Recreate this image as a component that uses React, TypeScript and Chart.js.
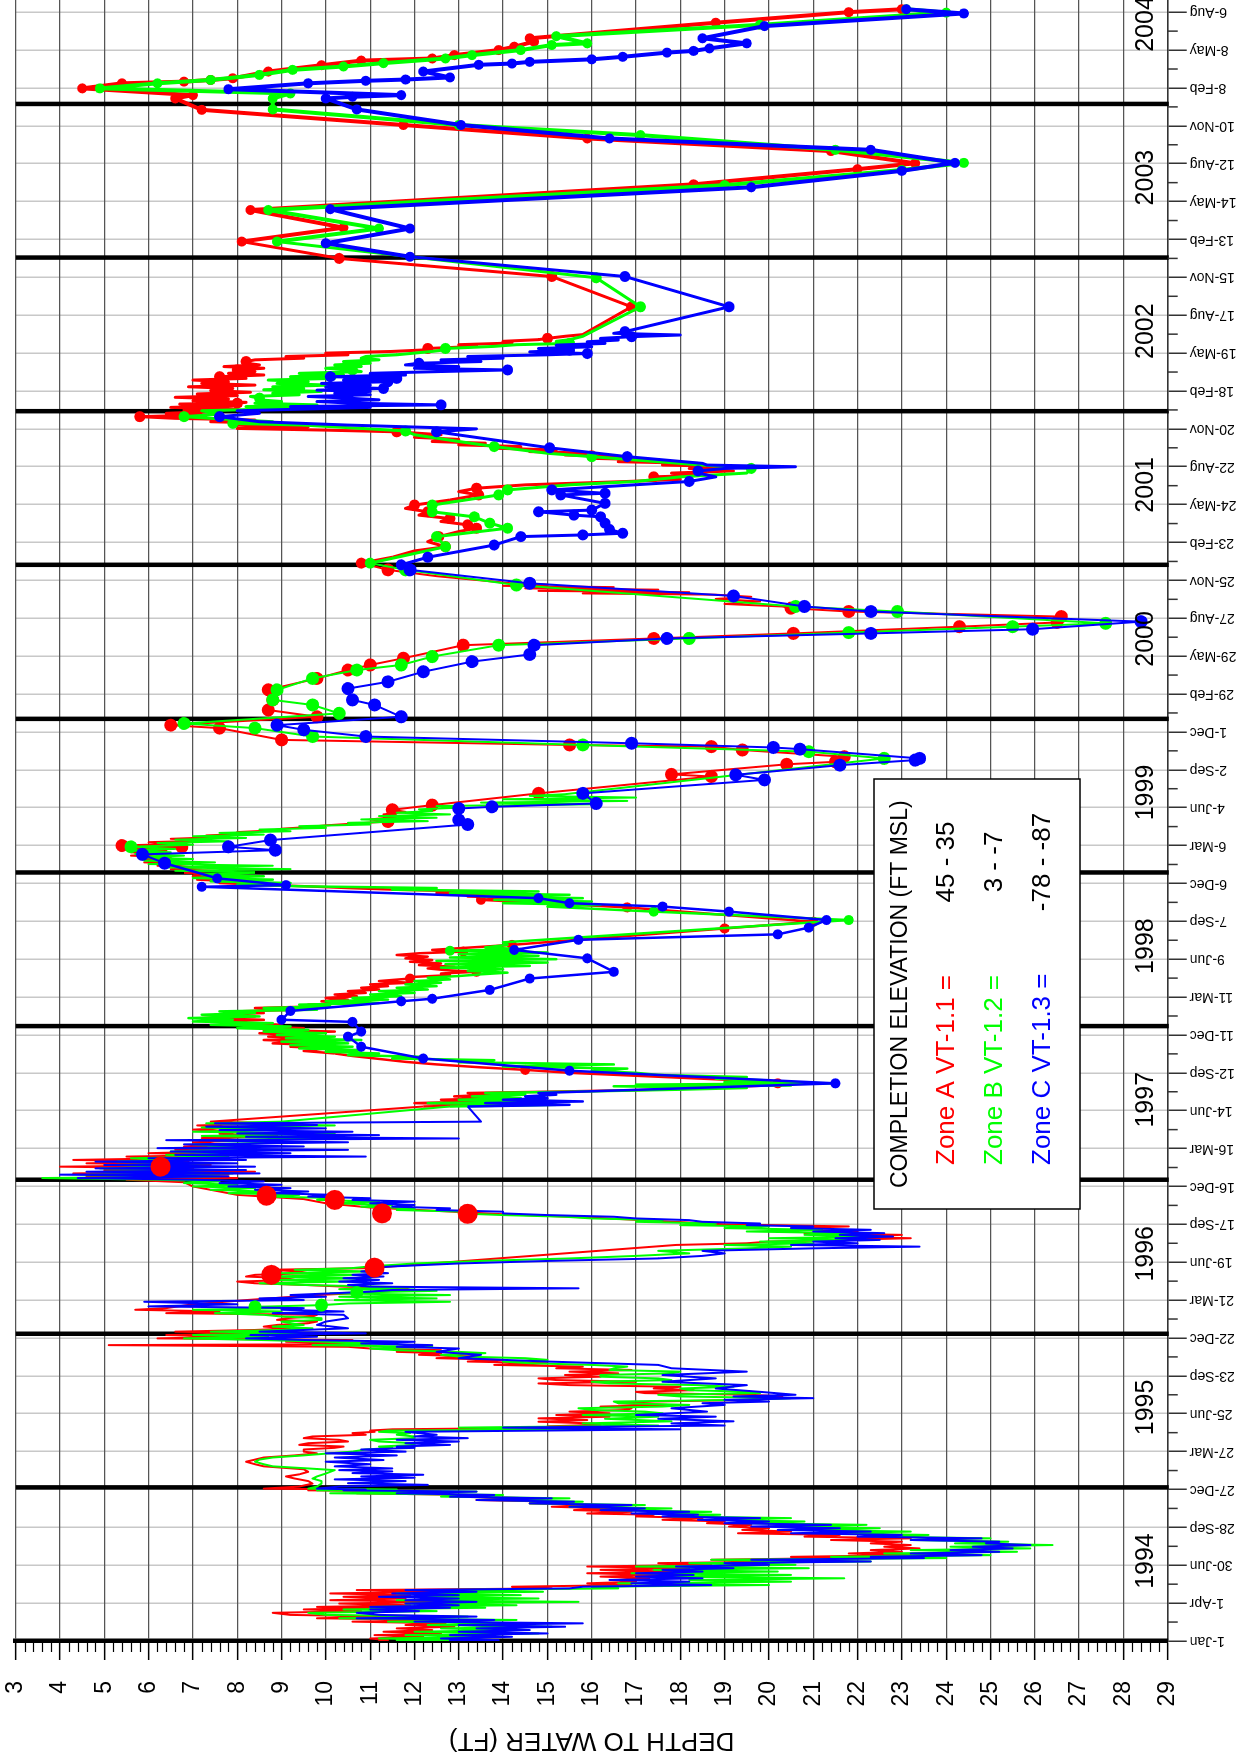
import React, { useEffect, useRef } from "react";
import { Chart, registerables } from "chart.js";

Chart.register(...registerables);

// x values: days since 1-Jan-1994 ; y values: depth to water (ft)
const dateTickLabels = [
  "1-Jan", "1-Apr", "30-Jun", "28-Sep", "27-Dec", "27-Mar", "25-Jun", "23-Sep", "22-Dec",
  "21-Mar", "19-Jun", "17-Sep", "16-Dec", "16-Mar", "14-Jun", "12-Sep", "11-Dec", "11-Mar",
  "9-Jun", "7-Sep", "6-Dec", "6-Mar", "4-Jun", "2-Sep", "1-Dec", "29-Feb", "29-May", "27-Aug",
  "25-Nov", "23-Feb", "24-May", "22-Aug", "20-Nov", "18-Feb", "19-May", "17-Aug", "15-Nov",
  "13-Feb", "14-May", "12-Aug", "10-Nov", "8-Feb", "8-May", "6-Aug",
];
const dateTickStep = 90;
const yearLabels = ["1994", "1995", "1996", "1997", "1998", "1999", "2000", "2001", "2002", "2003", "2004"];
const yearStartDays = [0, 365, 730, 1096, 1461, 1826, 2191, 2557, 2922, 3287, 3652];
const depthMin = 3;
const depthMax = 29;
const dayMax = 3994;

const legendTitle = "COMPLETION ELEVATION (FT MSL)";
const legendZones = ["Zone A VT-1.1 =", "Zone B VT-1.2 =", "Zone C VT-1.3 ="];
const legendRanges = ["45 - 35", "3 - -7", "-78 - -87"];
const zoneColors = ["#ff0000", "#00ff00", "#0000ff"];

// ---------------- Zone A (VT-1.1, red) ----------------
const zoneA_logger: number[][] = [
  [0,11.2],[2,11.4],[6,11.0],[10,12.2],[14,11.1],[18,12.6],[22,11.3],[26,12.4],[30,11.6],[34,12.9],[38,11.8],[42,12.7],[46,10.6],[50,12.9],[54,9.8],[58,11.5],[62,9.2],[67,8.8],[71,10.8],[75,9.5],[79,11.2],[81,9.8],[85,11.9],[89,10.3],[93,12.6],[97,10.1],[101,11.8],[105,10.4],[109,11.9],[113,10.1],[117,12.5],[121,10.7],[125,15.1],[129,14.2],[133,16.9],[137,15.9],[141,17.0],[145,16.6],[149,17.3],[153,16.2],[157,17.5],[161,15.9],[165,17.8],[169,16.2],[173,18.2],[177,15.9],[181,18.7],[185,17.5],[189,20.5],[193,18.7],[197,21.5],[200,20.5],[204,23.2],[208,21.8],[212,23.0],[216,22.3],[220,23.4],[224,22.6],[228,23.2],[232,22.3],[236,23.0],[240,21.4],[244,23.2],[248,20.8],[252,21.6],[256,19.3],[260,20.5],[264,19.4],[268,20.0],[272,19.1],[276,19.6],[280,18.6],[284,19.0],[288,17.6],[292,18.5],[296,17.0],[300,17.4],[303,15.9],[307,16.9],[311,15.6],[315,16.4],[319,15.1],[323,16.2],[327,14.6],[331,15.2],[335,13.4],[339,14.8],[343,12.8],[347,13.2],[351,10.7],[355,12.6],[358,9.6],[360,10.7],[362,8.6],
  [367,9.4],[374,9.7],[380,9.6],[386,9.3],[391,9.1],[396,9.4],[402,9.6],[408,9.5],[415,8.6],[420,8.4],[426,8.2],[431,8.4],[436,8.6],[441,9.3],[446,9.8],[450,9.5],[455,9.5],[459,10.2],[462,10.4],[466,9.4],[470,9.6],[474,10.5],[478,10.3],[482,9.5],[486,9.7],[490,10.9],[494,10.6],[497,11.1],[500,11.0],[503,11.5],[507,15.6],[510,15.0],[514,16.2],[517,16.0],[521,14.8],[525,15.9],[529,14.8],[533,16.4],[537,15.2],[541,16.4],[545,15.5],[549,16.8],[553,16.9],[557,16.2],[561,17.7],[565,16.6],[569,17.4],[573,19.6],[577,19.9],[581,20.3],[585,19.6],[589,17.2],[592,17.0],[596,18.3],[600,17.4],[604,18.0],[608,15.5],[612,14.8],[616,17.0],[620,15.2],[624,14.8],[628,16.2],[632,15.4],[636,16.6],[640,15.5],[644,16.9],[648,15.2],[652,15.8],[656,13.8],[660,15.0],[664,13.2],[668,14.0],[672,12.5],[676,13.4],[680,12.1],[684,12.6],[687,11.6],[691,12.6],[695,11.0],[699,10.5],[703,5.1],[705,9.8],[707,10.7],[711,9.1],[715,10.6],[719,6.2],[723,8.0],[727,6.4],[731,8.5],[735,6.6],[739,8.4],[743,9.2],[747,8.6],[751,8.9],[755,9.6],[759,9.8],[763,8.9],[767,9.1],[771,9.7],[775,9.8],[779,6.4],[783,7.6],[787,5.7],[791,6.4],[800,7.0],[810,8.2],[822,9.8],[826,10.6],[830,11.2],[834,11.9],[838,11.8],[842,10.4],[846,9.5],[850,8.4],[854,8.0],[858,9.3],[862,9.1],[866,8.2],[870,8.4],[874,9.6],[878,9.4],[882,8.7],[886,11.0],[941,17.9],[945,19.5],[949,20.0],[953,21.6],[957,23.2],[961,21.5],[965,23.0],[969,20.8],[973,22.0],[977,20.6],[981,20.5],[985,21.8],[990,19.0],[998,17.5],[1006,16.0],[1014,14.0],[1022,12.5],[1030,11.0],[1040,10.0],[1050,9.5],[1060,8.0],[1070,7.5],[1080,7.0],[1090,6.8],
  [1096,5.5],[1100,8.0],[1104,4.6],[1108,7.8],[1111,4.3],[1115,8.4],[1119,5.0],[1123,7.0],[1127,4.0],[1131,7.4],[1135,4.6],[1139,6.9],[1143,4.3],[1147,6.5],[1151,5.5],[1155,8.0],[1159,6.0],[1163,7.5],[1167,6.6],[1171,8.0],[1175,6.8],[1180,7.6],[1185,7.0],[1190,8.3],[1195,7.2],[1200,8.9],[1205,7.6],[1210,8.0],[1215,7.0],[1220,7.9],[1225,7.1],[1230,8.9],[1234,7.4],[1270,12.2],[1274,14.0],[1278,12.0],[1282,13.5],[1286,12.6],[1290,14.0],[1294,12.9],[1298,13.7],[1302,13.2],[1306,15.5],[1310,17.5],[1314,18.5],[1318,19.5],[1322,20.5],[1330,19.8],[1336,18.5],[1343,17.0],[1350,15.5],[1363,13.5],[1370,12.5],[1376,11.8],[1383,11.2],[1390,10.6],[1396,10.2],[1402,9.5],[1408,10.0],[1412,9.2],[1416,9.8],[1420,8.8],[1424,9.6],[1428,8.6],[1432,10.0],[1436,8.7],[1440,9.4],[1444,8.5],[1448,10.2],[1452,8.6],[1456,9.5],[1460,8.4],[1464,9.0],[1468,8.2],[1472,7.8],[1476,8.6],[1480,7.2],[1484,8.4],[1488,7.5],[1492,8.6],[1496,8.0],[1500,9.4],[1504,8.4],[1508,9.9],[1512,9.6],[1516,10.7],[1520,9.9],[1524,10.5],[1528,10.0],[1532,10.7],[1536,10.2],[1540,10.9],[1544,10.5],[1548,11.2],[1552,10.8],[1556,11.4],[1560,11.0],[1564,11.9],[1568,11.2],[1578,12.0],[1582,12.8],[1586,12.6],[1594,12.7],[1598,12.3],[1602,12.9],[1606,12.1],[1610,12.6],[1614,11.9],[1618,12.4],[1622,11.8],[1626,12.3],[1630,11.6],[1634,12.1],[1642,12.4],[1646,13.0],[1650,13.6],
  [1765,14.5],[1769,13.2],[1773,14.0],[1777,12.5],[1781,13.2],[1785,11.6],[1789,10.5],[1793,9.6],[1797,8.5],[1801,7.6],[1805,8.0],[1809,7.1],[1813,7.6],[1817,7.0],[1821,7.4],[1826,6.8],[1830,7.5],[1834,6.5],[1838,7.2],[1842,6.2],[1846,6.9],[1850,5.9],[1854,6.6],[1858,5.8],[1862,6.5],[1866,5.6],[1870,6.2],[1874,5.6],[1878,6.4],[1882,5.4],[1894,6.6],[1898,6.0],[1902,7.4],[1906,6.5],[1910,7.6],[1914,7.3],[1918,8.2],[1922,8.0],[1926,8.8],[1930,9.0],[1934,9.6],[1938,10.0],[1942,10.6],[1952,11.0],[1958,11.6],[1964,11.3],[1970,11.8],
  [2458,20.3],[2464,19.0],[2470,19.8],[2476,18.8],[2481,19.6],[2486,18.8],[2489,15.8],[2492,18.2],[2495,14.8],[2498,17.5],[2501,14.5],[2504,16.5],[2507,14.0],[2510,15.0],[2513,14.2],[2520,13.5],[2530,12.5],
  [2575,11.5],[2590,12.0],[2612,12.3],[2636,13.0],[2660,12.6],[2675,12.1],[2691,11.8],[2711,12.8],[2731,13.0],[2747,14.5],[2755,16.8],[2760,18.0],[2770,18.6],[2775,17.8],[2780,19.2],[2786,18.2],[2790,19.5],[2794,17.6],[2798,18.4],[2802,16.6],[2806,17.5],[2810,16.0],[2814,16.8],[2818,15.4],[2822,16.0],[2826,14.6],[2830,15.2],[2834,13.8],[2838,14.4],[2842,13.0],[2846,13.6],[2850,12.4],[2855,13.0],[2860,12.0],[2866,12.6],[2877,10.0],[2881,8.0],[2885,9.6],[2889,8.0],[2893,8.9],[2897,7.4],[2901,8.4],[2905,6.6],[2913,7.2],[2917,6.4],[2921,7.4],
  [2925,6.8],[2927,8.0],[2931,6.5],[2935,7.9],[2939,6.7],[2943,8.2],[2947,7.0],[2951,7.8],[2955,6.6],[2959,8.0],[2963,7.1],[2967,8.3],[2971,7.4],[2976,7.9],[2980,6.9],[2984,8.4],[2988,7.2],[2992,7.8],[2996,7.0],[3000,8.2],[3008,8.6],[3012,7.8],[3016,8.4],[3024,8.6],[3028,7.7],[3032,8.5],[3036,8.2],[3044,8.4],[3048,9.5],[3052,9.1],[3056,10.5],[3060,10.0],[3064,11.5],[3068,12.3],[3076,13.4],[3080,13.0],[3084,14.2],[3088,14.0],[3092,14.8],[3100,15.4],[3104,15.8],
];
const zoneA_manual: number[][] = [
  [1325,20.2],[1357,14.5],[1574,11.9],[1590,13.4],[1638,13.1],[1654,14.2],[1693,19.0],[1709,21.0],[1743,16.8],[1761,13.5],[1887,6.75],[1890,5.4],[1947,11.4],[1975,11.5],[1986,12.4],[2014,14.8],[2054,18.7],[2059,17.8],[2083,20.4],[2089,21.5],[2101,21.7],[2117,19.4],[2125,18.7],[2129,15.5],[2141,9.0],[2169,7.6],[2176,6.5],[2196,9.8],[2212,8.7],[2236,8.8],[2260,8.7],[2287,9.8],[2307,10.5],[2319,11.0],[2335,11.75],[2366,13.1],[2382,17.4],[2394,20.55],[2410,24.3],[2420,26.5],[2434,26.6],[2446,21.8],[2454,20.5],[2545,11.4],[2561,10.8],[2600,12.7],[2624,12.55],[2644,13.4],[2652,13.2],[2667,12.8],[2683,12.3],[2699,12.0],[2723,13.45],[2739,13.4],[2766,17.4],[2816,16.0],[2873,11.6],[2909,5.8],[2941,8.0],[3004,7.6],[3020,8.0],[3040,8.2],[3071,12.3],[3095,15.0],[3170,16.9],[3242,15.1],[3285,10.3],[3325,8.1],[3358,10.4],[3400,8.3],[3461,18.3],[3497,22.0],[3511,23.3],[3540,21.4],[3570,15.9],[3602,11.75],[3638,7.2],[3665,6.6],[3673,7.0],[3689,4.5],[3701,5.4],[3705,6.8],[3709,7.4],[3713,7.9],[3729,8.7],[3744,9.9],[3755,10.8],[3760,12.4],[3768,12.9],[3780,13.9],[3788,14.25],[3800,14.7],[3808,14.6],[3845,18.8],[3870,21.8],[3877,23.0],
];
const zoneA_bigDots: number[][] = [[870,8.77],[887,11.1],[1015,13.2],[1016,11.27],[1048,10.2],[1058,8.66],[1127,6.27]];

// ---------------- Zone B (VT-1.2, green) ----------------
const zoneB_logger: number[][] = [
  [0,11.6],[2,13.4],[6,11.2],[10,14.0],[14,11.8],[18,14.8],[22,12.0],[26,14.2],[30,12.6],[34,15.1],[38,12.3],[42,14.6],[46,11.4],[50,14.3],[54,10.3],[58,13.2],[62,10.0],[67,9.6],[71,12.5],[75,10.4],[79,13.6],[81,11.0],[85,14.3],[89,11.8],[93,15.7],[97,11.6],[101,14.8],[105,12.0],[109,14.4],[113,11.6],[117,14.9],[121,12.3],[125,16.6],[129,16.0],[133,20.0],[137,16.6],[141,20.5],[145,18.2],[149,21.7],[153,17.5],[157,20.5],[161,16.9],[165,20.2],[169,17.4],[173,20.9],[177,17.0],[181,20.6],[185,18.2],[189,22.3],[193,18.7],[197,24.0],[200,21.4],[204,25.0],[208,22.6],[212,25.6],[216,23.2],[220,25.9],[224,24.1],[228,26.4],[232,24.2],[236,25.4],[240,23.2],[244,25.0],[248,22.4],[252,23.6],[256,21.4],[260,23.2],[264,20.8],[268,22.5],[272,20.5],[276,22.2],[280,19.5],[284,20.8],[288,18.7],[292,20.5],[296,17.8],[300,18.9],[303,17.3],[307,18.7],[311,16.4],[315,17.8],[319,15.5],[323,17.2],[327,14.6],[331,15.8],[335,13.8],[339,15.5],[343,12.6],[347,14.0],[351,10.1],[355,13.4],[358,9.8],[360,11.6],[362,9.6],
  [367,9.8],[374,9.9],[380,9.9],[386,9.7],[391,9.8],[398,10.0],[406,10.2],[410,9.6],[415,8.8],[420,8.6],[426,8.4],[431,8.5],[436,8.8],[441,9.5],[446,10.1],[450,10.6],[455,10.9],[459,11.5],[462,11.2],[466,12.0],[470,12.0],[474,11.2],[478,11.0],[482,12.0],[486,12.0],[490,11.6],[494,11.9],[497,11.2],[500,11.4],[503,16.4],[507,13.0],[512,17.5],[517,15.8],[522,17.8],[528,16.3],[533,17.5],[537,15.8],[541,17.6],[545,17.2],[549,16.0],[553,15.7],[557,17.6],[561,18.2],[565,16.6],[569,16.5],[573,19.5],[577,20.5],[581,18.0],[585,17.5],[589,19.8],[592,19.6],[596,18.2],[600,18.0],[604,19.2],[608,18.4],[612,16.4],[616,16.0],[620,17.8],[624,17.5],[628,16.2],[632,16.2],[636,17.8],[640,18.0],[644,16.4],[648,16.5],[652,16.8],[656,16.0],[660,14.6],[664,14.0],[668,15.0],[672,14.5],[676,13.0],[680,12.6],[684,13.6],[687,13.0],[691,11.6],[695,11.0],[699,12.4],[703,9.7],[707,11.3],[711,10.0],[715,8.6],[719,6.8],[723,8.7],[727,7.0],[731,9.5],[735,7.4],[739,9.0],[743,9.7],[747,8.8],[751,9.5],[755,9.2],[759,9.0],[763,9.9],[767,9.9],[771,9.0],[775,8.6],[779,7.5],[783,9.0],[787,7.0],[791,9.2],[794,8.4],[798,9.9],[802,10.5],[806,12.8],[810,10.2],[814,12.5],[818,10.3],[822,12.8],[826,10.1],[828,10.7],[832,12.5],[836,10.3],[840,12.0],[846,9.5],[850,8.5],[854,10.5],[858,8.8],[862,11.0],[866,8.6],[870,10.8],[874,9.0],[878,11.0],[882,9.3],[886,10.6],[890,11.0],[897,12.0],[903,13.5],[909,15.5],[915,17.0],[921,18.2],[927,17.5],[933,19.5],[937,20.5],[941,19.0],[945,21.0],[949,19.8],[953,22.0],[957,20.0],[961,22.5],[965,20.8],[969,21.8],[973,19.5],[977,21.2],[981,19.0],[985,20.0],[988,18.0],[992,18.8],[996,17.0],[1000,17.6],[1004,16.0],[1008,15.4],[1012,14.0],[1016,13.0],[1020,13.2],[1024,11.6],[1028,12.0],[1032,10.8],[1036,11.5],[1040,10.2],[1044,11.2],[1048,9.8],[1052,10.4],[1056,8.6],[1060,9.4],[1064,7.8],[1068,8.6],[1072,7.4],[1076,8.4],[1080,7.0],[1084,8.0],[1088,6.8],[1092,7.6],
  [1096,6.2],[1100,3.6],[1104,7.6],[1108,4.6],[1111,7.9],[1115,5.0],[1119,7.5],[1123,4.9],[1127,7.0],[1131,5.2],[1135,7.4],[1139,5.3],[1143,6.6],[1147,5.6],[1151,7.8],[1155,6.4],[1159,8.8],[1163,6.5],[1167,8.5],[1171,6.9],[1175,8.0],[1180,7.0],[1185,9.5],[1190,7.4],[1195,10.0],[1200,7.2],[1205,10.2],[1210,7.0],[1215,9.0],[1220,7.2],[1225,10.2],[1230,7.3],[1234,9.0],[1270,12.8],[1274,15.2],[1278,12.3],[1282,15.5],[1286,13.0],[1290,14.4],[1294,13.3],[1298,14.5],[1302,13.6],[1306,16.0],[1310,18.0],[1314,19.5],[1318,16.5],[1320,20.5],[1322,17.0],[1325,21.5],[1328,19.0],[1332,20.0],[1336,18.8],[1340,19.5],[1345,17.5],[1350,17.0],[1355,16.0],[1360,16.8],[1365,14.0],[1370,16.5],[1375,13.0],[1380,13.8],[1384,11.5],[1388,12.2],[1392,10.5],[1396,11.2],[1400,10.0],[1404,10.8],[1408,9.4],[1412,10.6],[1416,9.2],[1420,10.5],[1424,9.0],[1428,10.8],[1432,9.1],[1436,10.2],[1440,8.9],[1444,10.0],[1448,8.6],[1452,9.6],[1456,8.0],[1460,9.2],[1464,7.4],[1468,8.8],[1472,7.0],[1476,7.9],[1480,6.9],[1484,8.5],[1488,7.2],[1492,8.4],[1496,7.6],[1500,9.8],[1504,8.6],[1508,10.1],[1512,9.4],[1516,11.2],[1520,10.0],[1524,11.4],[1528,10.6],[1532,11.7],[1536,11.0],[1540,12.0],[1544,11.2],[1548,12.3],[1552,11.6],[1556,12.5],[1560,11.8],[1564,12.6],[1568,12.0],[1572,12.8],[1576,12.3],[1580,13.0],[1584,13.5],[1588,14.1],[1592,13.2],[1596,14.0],[1600,12.6],[1604,14.6],[1608,12.7],[1612,15.0],[1616,12.5],[1620,15.2],[1624,12.8],[1628,14.8],[1632,13.0],[1636,15.0],[1644,14.4],[1648,13.6],[1654,14.1],[1660,14.0],
  [1745,15.0],[1749,16.2],[1753,14.0],[1757,16.0],[1761,13.8],[1765,15.8],[1769,13.5],[1773,15.5],[1777,12.8],[1781,14.8],[1785,11.5],[1789,12.5],[1793,9.5],[1797,8.0],[1801,9.2],[1805,7.4],[1809,8.8],[1813,7.0],[1817,8.6],[1821,7.2],[1826,8.4],[1830,6.6],[1834,9.2],[1838,6.4],[1842,8.8],[1846,6.0],[1850,7.5],[1854,5.9],[1858,7.0],[1862,5.8],[1866,6.8],[1870,5.7],[1874,6.5],[1878,5.6],[1882,6.6],[1892,7.0],[1896,6.2],[1900,7.8],[1904,6.6],[1908,8.2],[1912,7.0],[1916,8.6],[1920,7.6],[1924,9.2],[1928,8.5],[1932,10.0],[1936,9.4],[1940,11.0],[1944,10.5],[1948,12.3],[1952,10.8],[1956,12.5],[1960,11.2],[1964,12.8],[1968,11.6],[1972,12.4],[1976,12.1],[1980,13.0],[1984,12.5],[1988,16.0],[1992,13.5],[1996,16.8],[2000,14.0],[2004,17.0],[2008,14.6],[2012,15.4],
  [2747,15.5],[2755,17.0],[2766,18.0],[2775,19.5],[2794,18.5],[2802,17.5],[2822,15.0],[2850,13.0],[2866,12.0],[2889,9.5],[2897,8.8],[2905,7.4],[2915,7.6],[2923,7.2],
  [2929,9.4],[2933,8.2],[2937,9.8],[2941,8.4],[2945,9.0],[2949,8.5],[2957,8.3],[2961,9.4],[2965,8.8],[2969,9.9],[2973,8.6],[2976,9.5],[2980,8.8],[2984,10.1],[2988,8.9],[2992,9.6],[2996,8.7],[3000,10.2],[3004,9.2],[3008,10.4],[3012,9.4],[3016,10.8],[3024,10.0],[3028,10.8],[3032,10.2],[3036,11.0],[3040,10.4],[3044,11.2],[3048,10.8],[3052,10.9],[3056,11.6],[3060,12.0],[3064,12.4],[3068,12.7],[3076,13.8],[3080,14.3],[3088,15.2],[3092,15.5],[3100,15.8],
];
const zoneB_manual: number[][] = [
  [1640,12.8],[1713,21.8],[1733,17.4],[1887,5.6],[2097,22.6],[2113,20.9],[2129,15.8],[2149,9.7],[2169,8.4],[2180,6.8],[2204,10.3],[2224,9.7],[2236,8.8],[2260,8.9],[2287,9.7],[2307,10.7],[2319,11.7],[2339,12.4],[2366,13.9],[2382,18.2],[2396,21.8],[2410,25.5],[2418,27.6],[2446,22.9],[2458,20.6],[2509,14.3],[2545,11.8],[2561,11.0],[2600,12.7],[2624,12.5],[2644,14.1],[2656,13.7],[2671,13.35],[2683,12.4],[2699,12.4],[2723,13.9],[2735,14.1],[2786,19.6],[2814,16.0],[2838,13.8],[2875,11.8],[2893,7.9],[2909,6.8],[2953,8.5],[3020,10.6],[3071,12.7],[3083,15.5],[3170,17.1],[3239,16.1],[3325,8.9],[3356,11.2],[3400,8.7],[3459,19.0],[3495,23.0],[3512,24.4],[3543,21.5],[3578,17.1],[3602,13.0],[3639,8.8],[3665,8.8],[3677,9.2],[3689,4.9],[3701,6.2],[3709,7.4],[3721,8.5],[3733,9.25],[3741,10.4],[3749,11.3],[3760,12.7],[3768,13.3],[3780,14.4],[3792,15.1],[3796,15.9],[3813,15.2],[3840,19.8],[3869,24.0],[3877,23.1],
];
const zoneB_bigDots: number[][] = [[794,8.4],[798,9.9],[828,10.7]];

// ---------------- Zone C (VT-1.3, blue) ----------------
const zoneC_logger: number[][] = [
  [0,12.8],[2,13.9],[6,12.6],[10,14.2],[14,12.8],[18,15.0],[22,13.0],[26,14.6],[30,13.4],[34,15.4],[38,13.0],[42,15.8],[46,12.0],[50,13.8],[54,10.7],[58,13.4],[62,11.2],[67,10.7],[71,12.1],[75,11.0],[79,12.8],[81,11.0],[85,13.0],[89,11.8],[93,13.4],[97,11.8],[101,13.0],[105,11.2],[109,13.0],[113,11.5],[117,13.4],[121,11.8],[125,15.5],[129,15.8],[133,18.7],[137,16.9],[141,18.2],[145,16.4],[149,18.5],[153,17.0],[157,18.3],[161,17.0],[165,18.5],[169,17.6],[173,19.2],[177,17.9],[181,20.0],[185,19.0],[189,22.3],[193,19.6],[197,23.5],[200,22.3],[204,24.8],[208,23.2],[212,25.2],[216,24.1],[220,25.5],[224,24.6],[228,25.9],[232,24.9],[236,25.2],[240,23.2],[244,24.8],[248,22.0],[252,23.0],[256,20.5],[260,22.3],[264,20.2],[268,21.6],[272,19.6],[276,21.4],[280,19.0],[284,20.0],[288,18.4],[292,19.8],[296,17.6],[300,18.4],[303,16.9],[307,18.2],[311,16.2],[315,17.2],[319,15.5],[323,16.9],[327,14.6],[331,15.6],[335,13.4],[339,15.1],[343,12.8],[347,13.8],[351,11.6],[355,13.4],[358,10.4],[360,10.9],[362,9.8],
  [367,10.3],[371,12.3],[375,10.5],[380,11.8],[384,10.2],[388,12.0],[391,10.8],[395,12.2],[399,10.6],[403,11.5],[406,10.3],[410,11.5],[415,10.2],[420,11.0],[426,10.0],[430,11.3],[436,10.2],[441,11.6],[446,10.0],[450,11.8],[455,10.8],[459,12.0],[462,11.6],[466,12.8],[470,11.8],[474,13.0],[478,11.6],[482,13.2],[486,12.0],[490,12.5],[497,11.8],[503,18.0],[507,14.0],[512,19.0],[517,17.8],[522,19.2],[528,17.5],[533,18.8],[537,17.0],[545,18.6],[553,17.8],[561,19.0],[565,18.5],[569,20.0],[573,19.0],[577,21.0],[581,19.2],[585,20.6],[592,19.8],[600,18.8],[608,19.5],[616,17.6],[624,18.8],[632,17.6],[640,19.5],[648,17.8],[656,17.5],[664,15.0],[672,13.0],[680,13.5],[687,12.5],[695,13.0],[699,11.6],[703,12.4],[707,10.8],[711,12.0],[715,9.6],[719,8.2],[723,9.8],[727,8.3],[731,10.9],[735,8.5],[743,10.5],[751,9.8],[759,10.0],[767,10.5],[775,10.4],[779,8.8],[783,10.4],[787,9.0],[791,9.5],[795,6.0],[800,8.0],[806,5.9],[810,9.5],[814,8.5],[818,10.0],[822,9.2],[826,10.1],[830,11.0],[834,11.5],[838,15.7],[842,11.0],[846,10.5],[850,11.5],[854,10.3],[858,11.2],[862,10.4],[866,11.3],[870,10.6],[874,11.4],[878,10.8],[882,11.2],[886,10.9],[890,11.5],[897,13.0],[903,15.0],[909,17.5],[915,18.5],[921,19.0],[927,18.5],[933,21.0],[937,23.4],[941,20.5],[945,22.0],[949,21.0],[953,22.5],[957,21.5],[961,22.8],[965,21.6],[969,22.6],[973,21.0],[977,22.3],[981,20.5],[985,21.0],[988,19.5],[992,19.8],[996,18.5],[1000,18.2],[1004,17.0],[1008,16.5],[1012,15.0],[1016,14.0],[1020,14.0],[1024,12.5],[1028,12.8],[1032,11.5],[1036,12.0],[1040,11.0],[1044,12.0],[1048,10.6],[1052,11.0],[1056,9.6],[1060,10.2],[1064,8.8],[1068,9.6],[1072,8.4],[1076,9.2],[1080,7.8],[1084,9.0],[1088,7.6],[1092,8.6],
  [1096,7.0],[1100,4.4],[1104,7.8],[1108,4.0],[1111,8.5],[1115,4.6],[1119,8.2],[1123,4.8],[1127,8.4],[1131,5.0],[1135,8.0],[1139,4.8],[1143,8.2],[1147,6.0],[1151,10.9],[1155,6.6],[1159,9.2],[1163,6.5],[1167,10.5],[1171,6.2],[1175,9.5],[1180,6.8],[1185,10.5],[1190,6.4],[1194,13.0],[1198,8.2],[1202,11.2],[1206,8.0],[1210,10.6],[1214,7.6],[1218,10.0],[1222,7.3],[1226,9.8],[1230,7.5],[1234,13.5],[1270,13.2],[1274,15.5],[1278,13.6],[1282,15.8],[1286,14.0],[1290,15.0],[1294,14.5],[1298,15.2],[1302,14.8],
  [2766,18.8],[2775,18.4],[2786,19.0],[2790,20.6],[2794,18.6],[2798,18.5],[2880,13.4],[2889,10.5],[2897,8.5],[2917,8.5],[2923,8.0],
  [2927,9.5],[2931,11.0],[2933,9.2],[2945,9.8],[2949,11.2],[2957,9.6],[2961,11.0],[2965,10.2],[2969,11.0],[2972,9.8],[2980,10.0],[2984,11.0],[2988,9.9],[2996,10.4],[3008,11.8],[3012,11.0],[3016,12.5],[3024,12.0],[3028,13.0],[3032,11.8],[3040,13.5],[3044,12.6],[3048,14.0],[3052,13.2],[3056,15.0],[3063,14.6],[3071,14.8],[3075,16.0],[3079,15.2],[3083,16.3],[3087,15.9],[3091,16.6],[3095,16.2],[3103,18.0],[3107,16.5],
];
const zoneC_manual: number[][] = [
  [1325,21.5],[1355,15.5],[1384,12.2],[1412,10.8],[1436,10.5],[1448,10.8],[1471,10.6],[1476,9.0],[1497,9.2],[1520,11.7],[1526,12.4],[1547,13.7],[1574,14.6],[1590,16.5],[1622,15.9],[1642,14.25],[1666,15.7],[1679,20.2],[1695,20.9],[1713,21.3],[1733,19.1],[1745,17.6],[1753,15.5],[1765,14.8],[1792,7.2],[1796,9.1],[1812,7.55],[1848,6.36],[1869,5.86],[1879,8.86],[1887,7.8],[1903,8.75],[1940,13.2],[1951,13.0],[1978,13.0],[1982,13.75],[1990,16.1],[2014,15.8],[2046,19.9],[2058,19.25],[2081,21.6],[2093,23.3],[2097,23.4],[2119,20.7],[2123,20.1],[2133,16.9],[2149,10.9],[2165,9.5],[2176,8.9],[2196,11.7],[2224,11.1],[2236,10.6],[2263,10.5],[2279,11.4],[2303,12.2],[2327,13.3],[2344,14.6],[2366,14.7],[2382,17.7],[2394,22.3],[2404,25.95],[2422,28.4],[2446,22.3],[2458,20.8],[2483,19.2],[2513,14.6],[2545,11.9],[2557,11.7],[2575,12.3],[2604,13.8],[2624,14.4],[2628,15.8],[2632,16.7],[2641,16.4],[2656,16.3],[2671,16.2],[2675,15.6],[2683,14.8],[2687,16.0],[2703,16.3],[2723,15.3],[2727,16.3],[2735,15.1],[2755,18.2],[2780,18.4],[2814,16.8],[2835,15.05],[2873,12.5],[2909,7.6],[2937,12.6],[2941,10.6],[2953,10.5],[2976,11.3],[2992,11.4],[3000,11.6],[3004,10.1],[3020,14.1],[3036,12.1],[3059,15.9],[3067,15.5],[3099,16.9],[3111,16.75],[3170,19.1],[3242,16.75],[3289,11.9],[3321,10.0],[3356,11.9],[3402,10.1],[3454,19.6],[3493,23.0],[3512,24.2],[3543,22.3],[3570,16.4],[3602,13.05],[3639,10.7],[3665,10.0],[3669,10.6],[3673,11.7],[3687,7.8],[3701,9.6],[3707,10.9],[3710,11.8],[3715,12.8],[3729,12.2],[3745,13.45],[3748,14.2],[3752,14.6],[3758,16.0],[3764,16.7],[3774,17.7],[3778,18.3],[3784,18.66],[3796,19.5],[3808,18.5],[3837,19.9],[3867,24.4],[3877,23.1],
];

// ---------------- layout (landscape canvas, rotated on the page) ----------------
const PAGE_W = 1241;
const PAGE_H = 1764;
const CANVAS_W = 1804; // extra 40px falls outside the page (above the top edge)
const CANVAS_H = 1241;
const FONT = "'Liberation Sans', Arial, Helvetica, sans-serif";

function merge(logger: number[][], manual: number[][]) {
  const pts = [
    ...logger.map(([x, y]) => ({ x, y, m: false })),
    ...manual.map(([x, y]) => ({ x, y, m: true })),
  ];
  pts.sort((a, b) => a.x - b.x);
  return pts;
}

function markerRadius(day: number) {
  if (day < 1826) return 5;
  if (day < 2557) return 6.5;
  if (day < 3287) return 5.5;
  return 5;
}

function segWidth(day: number) {
  if (day < 1250) return 2;
  if (day < 1826) return 2.5;
  if (day < 2557) return 2;
  if (day < 3287) return 3;
  return 4;
}

function lineDataset(label: string, color: string, logger: number[][], manual: number[][]) {
  return {
    label,
    data: merge(logger, manual),
    borderColor: color,
    backgroundColor: color,
    pointBackgroundColor: color,
    pointBorderWidth: 0,
    borderWidth: 2,
    borderJoinStyle: "round" as const,
    tension: 0,
    pointRadius: (ctx: any) => (ctx.raw && ctx.raw.m ? markerRadius(ctx.raw.x) : 0),
    pointHoverRadius: 0,
    segment: { borderWidth: (ctx: any) => segWidth(ctx.p0.parsed.x) },
  };
}

function dotDataset(label: string, color: string, pts: number[][], r: number) {
  return {
    label,
    data: pts.map(([x, y]) => ({ x, y })),
    showLine: false,
    borderColor: color,
    backgroundColor: color,
    pointBackgroundColor: color,
    pointBorderWidth: 0,
    pointRadius: r,
    pointHoverRadius: 0,
  };
}

const overlay = {
  id: "overlay",
  beforeDatasetsDraw(chart: any) {
    const { ctx, chartArea: a, scales } = chart;
    const x = scales.x;
    ctx.save();
    ctx.strokeStyle = "#000";
    ctx.lineWidth = 4.5;
    for (const d of yearStartDays.slice(1)) {
      const px = x.getPixelForValue(d);
      ctx.beginPath();
      ctx.moveTo(px, a.top);
      ctx.lineTo(px, a.bottom + 1);
      ctx.stroke();
    }
    ctx.restore();
  },
  afterDatasetsDraw(chart: any) {
    const { ctx, scales } = chart;
    const x = scales.x;
    ctx.save();
    // year labels
    ctx.fillStyle = "#000";
    ctx.font = `25px ${FONT}`;
    ctx.textAlign = "center";
    ctx.textBaseline = "alphabetic";
    yearLabels.forEach((t, i) => {
      ctx.fillText(t, x.getPixelForValue(yearStartDays[i] + 190), 1153);
    });
    // legend box
    const bx = 555, by = 874, bw = 430, bh = 206;
    ctx.fillStyle = "#fff";
    ctx.fillRect(bx, by, bw, bh);
    ctx.strokeStyle = "#000";
    ctx.lineWidth = 1.5;
    ctx.strokeRect(bx, by, bw, bh);
    ctx.textAlign = "left";
    ctx.fillStyle = "#000";
    ctx.font = `23px ${FONT}`;
    ctx.fillText(legendTitle, 576, 907);
    ctx.font = `26px ${FONT}`;
    legendZones.forEach((t, i) => {
      const base = 954 + i * 48;
      ctx.textAlign = "left";
      ctx.fillStyle = zoneColors[i];
      ctx.fillText(t, 599, base);
      ctx.textAlign = "center";
      ctx.fillStyle = "#000";
      ctx.fillText(legendRanges[i], 902, base);
    });
    ctx.restore();
  },
  afterDraw(chart: any) {
    const { ctx, chartArea: a, scales } = chart;
    const x = scales.x, y = scales.y;
    ctx.save();
    ctx.strokeStyle = "#000";
    ctx.lineWidth = 1.2;
    // minor depth ticks
    for (let v = depthMin; v < depthMax; v++) {
      for (let k = 1; k < 5; k++) {
        const py = Math.round(y.getPixelForValue(v + k * 0.2)) + 0.5;
        ctx.beginPath();
        ctx.moveTo(a.left - 11, py);
        ctx.lineTo(a.left - 2, py);
        ctx.stroke();
      }
    }
    // minor date ticks
    ctx.strokeStyle = "#333";
    ctx.lineWidth = 1.5;
    for (let i = 0; i < dateTickLabels.length; i++) {
      const px = x.getPixelForValue(i * dateTickStep + dateTickStep / 2);
      if (px > a.right) continue;
      ctx.beginPath();
      ctx.moveTo(px, a.bottom);
      ctx.lineTo(px, a.bottom + 10);
      ctx.stroke();
    }
    // axis title
    ctx.fillStyle = "#000";
    ctx.font = `26px ${FONT}`;
    ctx.textAlign = "center";
    ctx.textBaseline = "alphabetic";
    ctx.translate(31, (a.top + a.bottom) / 2);
    ctx.rotate(-Math.PI / 2);
    ctx.fillText("DEPTH TO WATER (FT)", 0, 0);
    ctx.restore();
  },
};

export default function App() {
  const ref = useRef<HTMLCanvasElement>(null);
  useEffect(() => {
    if (!ref.current) return;
    const chart = new Chart(ref.current, {
      type: "line",
      data: {
        datasets: [
          dotDataset("Zone A big", zoneColors[0], zoneA_bigDots, 10),
          dotDataset("Zone B big", zoneColors[1], zoneB_bigDots, 6.5),
          lineDataset("Zone C VT-1.3", zoneColors[2], zoneC_logger, zoneC_manual),
          lineDataset("Zone B VT-1.2", zoneColors[1], zoneB_logger, zoneB_manual),
          lineDataset("Zone A VT-1.1", zoneColors[0], zoneA_logger, zoneA_manual),
        ] as any,
      },
      options: {
        animation: false,
        responsive: false,
        devicePixelRatio: 1,
        events: [],
        layout: { autoPadding: false, padding: { top: 15.7, left: 0, right: 0, bottom: 0 } },
        plugins: { legend: { display: false }, tooltip: { enabled: false }, title: { display: false } },
        scales: {
          x: {
            type: "linear",
            position: "bottom",
            min: 0,
            max: dayMax,
            afterBuildTicks: (s: any) => {
              s.ticks = dateTickLabels.map((_, i) => ({ value: i * dateTickStep }));
            },
            afterFit: (s: any) => {
              s.height = 73.3;
              s.paddingLeft = 0;
              s.paddingRight = 0;
            },
            ticks: {
              autoSkip: false,
              minRotation: 90,
              maxRotation: 90,
              padding: 3,
              color: "#000",
              font: { family: FONT, size: 14 },
              callback: (_v: any, i: number) => dateTickLabels[i],
            },
            grid: { color: "#c8c8c8", lineWidth: 1.5, tickLength: 19, tickColor: "#333", tickWidth: 1.5 },
            border: { display: true, color: "#333", width: 1.5 },
          },
          y: {
            type: "linear",
            position: "left",
            reverse: true,
            min: depthMin,
            max: depthMax,
            afterFit: (s: any) => {
              s.width = 123;
              s.paddingTop = 0;
              s.paddingBottom = 0;
            },
            ticks: { stepSize: 1, padding: 21, color: "#000", font: { family: FONT, size: 23 } },
            grid: { color: "#555", lineWidth: 1.3, tickLength: 19, tickColor: "#000", tickWidth: 1.5 },
            border: { display: true, color: "#000", width: 4.5 },
          },
        },
      } as any,
      plugins: [overlay],
    });
    return () => chart.destroy();
  }, []);

  return (
    <div
      style={{
        position: "absolute",
        left: 0,
        top: 0,
        width: PAGE_W,
        height: PAGE_H,
        overflow: "hidden",
        background: "#fff",
      }}
    >
      <div
        style={{
          position: "absolute",
          left: 0,
          top: 0,
          width: CANVAS_W,
          height: CANVAS_H,
          transformOrigin: "0 0",
          transform: `translate(0px, ${PAGE_H}px) rotate(-90deg)`,
        }}
      >
        <canvas ref={ref} width={CANVAS_W} height={CANVAS_H} style={{ display: "block" }} />
      </div>
    </div>
  );
}
